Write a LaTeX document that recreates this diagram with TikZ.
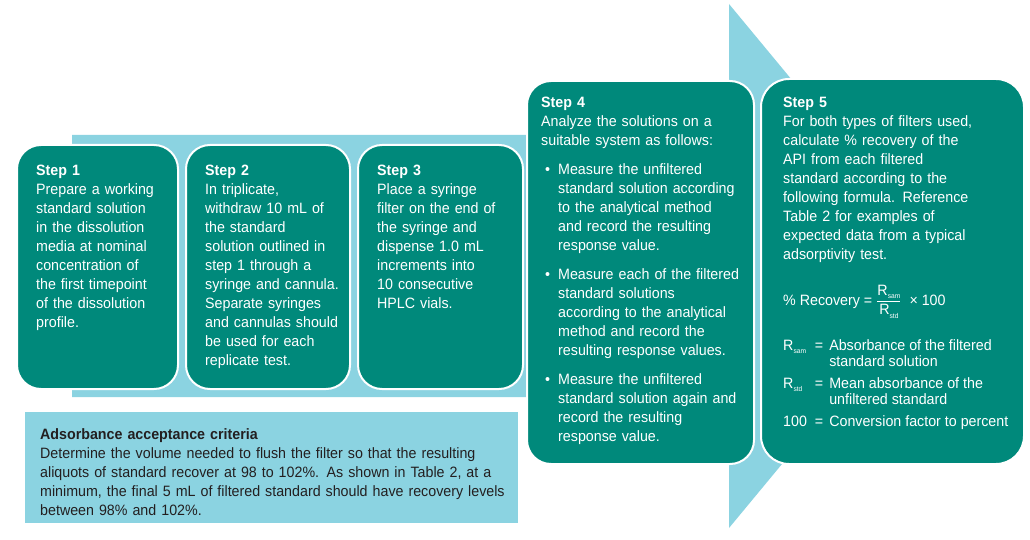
\documentclass[tikz,border=0pt]{standalone}
\usepackage{amsmath}
\usepackage{fontspec}
\setmainfont{Liberation Sans}[FakeStretch=0.95]
\usetikzlibrary{positioning}
\definecolor{stepteal}{RGB}{0,137,123}
\definecolor{arrowblue}{RGB}{139,211,225}
\definecolor{darktext}{RGB}{35,31,32}
\newcommand{\Rs}[1]{R\raisebox{-3.5pt}{\fontsize{7}{7}\selectfont #1}}
\newcommand{\bitem}{\par\vspace{10pt}\hangindent=17pt\hangafter=1\noindent\makebox[17pt][l]{\hspace{4pt}\textbullet}}
\tikzset{
  stepbox/.style={draw=white, line width=2pt, fill=stepteal, rounded corners=24pt, inner sep=0pt, anchor=north west},
  steptxt/.style={text=white, align=left, inner sep=0pt, font=\fontsize{15}{19}\selectfont},
  critbox/.style={fill=arrowblue, inner sep=0pt, anchor=north west},
  crittxt/.style={text=darktext, align=left, inner sep=0pt, font=\fontsize{15}{19}\selectfont}
}

\begin{document}
\begin{tikzpicture}[x=1pt, y=-1pt]
\useasboundingbox (0,0) rectangle (1030,540);
\fill[white] (0,0) rectangle (1030,540);
% big arrow behind the steps
\fill[arrowblue] (72,135) -- (729,135) -- (729,4) -- (946,266) -- (729,528) -- (729,397) -- (72,397) -- cycle;
\node[critbox, minimum width=493pt, minimum height=111pt] (crit) at (25,412) {};
\node[stepbox, minimum width=161pt, minimum height=244pt] (b1) at (16,144) {};
\node[stepbox, minimum width=164pt, minimum height=244pt, right=6pt of b1.north east, anchor=north west] (b2) {};
\node[stepbox, minimum width=165pt, minimum height=244pt, right=6pt of b2.north east, anchor=north west] (b3) {};
\node[stepbox, minimum width=227pt, minimum height=383pt] (b4) at (526,80) {};
\node[stepbox, minimum width=263pt, minimum height=385pt, rounded corners=28pt] (b5) at (760,78) {};

\node[steptxt, text width=150pt, below right=21pt and 20pt of b1.north west] (t1) {\textbf{Step 1}\\
Prepare a working\\ standard solution\\ in the dissolution\\ media at nominal\\ concentration of\\ the first timepoint\\ of the dissolution\\ profile.};
\node[steptxt, text width=155pt, below right=21pt and 20pt of b2.north west] (t2) {\textbf{Step 2}\\
In triplicate,\\ withdraw 10 mL of\\ the standard\\ solution outlined in\\ step 1 through a\\ syringe and cannula.\\ Separate syringes\\ and cannulas should\\ be used for each\\ replicate test.};
\node[steptxt, text width=155pt, below right=21pt and 20pt of b3.north west] (t3) {\textbf{Step 3}\\
Place a syringe\\ filter on the end of\\ the syringe and\\ dispense 1.0 mL\\ increments into\\ 10 consecutive\\ HPLC vials.};
\node[steptxt, text width=215pt, below right=17pt and 15pt of b4.north west] (t4) {\textbf{Step 4}\\
Analyze the solutions on a\\ suitable system as follows:
\bitem Measure the unfiltered\break standard solution according\break to the analytical method\break and record the resulting\break response value.
\bitem Measure each of the filtered\break standard solutions\break according to the analytical\break method and record the\break resulting response values.
\bitem Measure the unfiltered\break standard solution again and\break record the resulting\break response value.\par};
\node[steptxt, text width=225pt, below right=19pt and 23pt of b5.north west] (t5) {\textbf{Step 5}\\
For both types of filters used,\\ calculate \% recovery of the\\ API from each filtered\\ standard according to the\\ following formula. Reference\\ Table 2 for examples of\\ expected data from a typical\\ adsorptivity test.};
\node[steptxt, anchor=base west] (f5) at (783,305) {\% Recovery = $\dfrac{\mbox{\Rs{sam}}}{\mbox{\Rs{std}}}$\hspace{8pt}× 100};
\node[steptxt, anchor=base west] (d5) at (783,350) {\begin{tabular}[t]{@{}l@{\hspace{8pt}}c@{\hspace{6pt}}l@{}}
\Rs{sam} & = & Absorbance of the filtered\\[-3pt]
 & & standard solution\\[3pt]
\Rs{std} & = & Mean absorbance of the\\[-3pt]
 & & unfiltered standard\\[3pt]
100 & = & Conversion factor to percent
\end{tabular}};

\node[crittxt, text width=490pt, below right=16pt and 15pt of crit.north west] (c1) {\textbf{Adsorbance acceptance criteria}\\
Determine the volume needed to flush the filter so that the resulting\\ aliquots of standard recover at 98 to 102\%. As shown in Table 2, at a\\ minimum, the final 5 mL of filtered standard should have recovery levels\\ between 98\% and 102\%.};
\end{tikzpicture}
\end{document}
